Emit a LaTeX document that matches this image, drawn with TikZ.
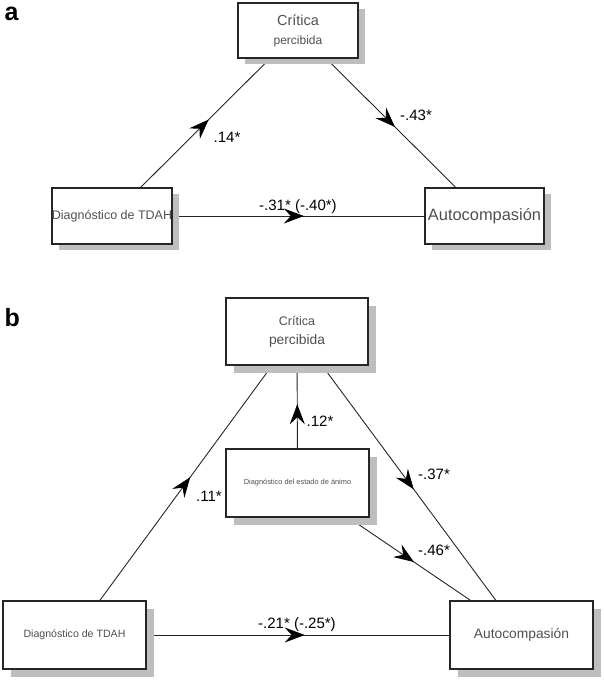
\documentclass[tikz,border=0pt]{standalone}
\usepackage{fontspec}
\setmainfont{Liberation Sans}
\usetikzlibrary{arrows.meta,decorations.markings,shadows,backgrounds}
\definecolor{shadowgray}{HTML}{BEBEBE}
\definecolor{boxtext}{HTML}{505050}
\newcommand{\fs}[1]{\fontsize{#1}{#1}\selectfont}

\begin{document}
\begin{tikzpicture}[x=1pt,y=-1pt,
    box/.style={draw=black!85, line width=1.2pt, fill=white, inner sep=0pt, text=boxtext, align=center},
    shadA/.style={drop shadow={shadow xshift=7pt, shadow yshift=-6pt, fill=shadowgray, opacity=1}},
    shadB/.style={drop shadow={shadow xshift=8pt, shadow yshift=-8pt, fill=shadowgray, opacity=1}},
    link/.style={draw=black!85, line width=0.9pt},
    midarrow/.style={postaction={decorate}, decoration={markings, mark=at position #1 with {\arrow[black]{Stealth[length=20pt,width=15pt,inset=7pt]}}}},
    coef/.style={font=\fs{15}, anchor=base},
    panel/.style={font=\bfseries\fs{25}, anchor=base west}]

    \useasboundingbox (0,0) rectangle (604,680);

    % panel a
    \node[panel] (pa) at (1,20) {a};
    \node[box, shadA, minimum width=120pt, minimum height=55pt] (crita) at (298,30.5)
        {{\fs{14.5}Crítica}\\[7pt]{\fs{12}percibida}};
    \node[box, shadA, minimum width=120pt, minimum height=56pt, font=\fs{12.5}] (diaga) at (112,216) {Diagnóstico de TDAH};
    \node[box, shadA, minimum width=119pt, minimum height=56pt, font=\fs{16.4}] (autoa) at (484.5,216) {Autocompasión};

    \begin{scope}[on background layer]
        \draw[link, midarrow=0.52] (diaga.center) -- (crita.center);
        \draw[link, midarrow=0.52] (crita.center) -- (autoa.center);
        \draw[link, midarrow=0.515] (diaga.center) -- (autoa.center);
    \end{scope}

    \node[coef] (ca1) at (227,142) {.14*};
    \node[coef] (ca2) at (416,120) {-.43*};
    \node[coef] (ca3) at (298,210) {-.31* (-.40*)};

    % panel b
    \node[panel] (pb) at (1,326) {b};
    \node[box, shadB, minimum width=142pt, minimum height=67pt] (critb) at (297,331.5)
        {{\fs{12.5}Crítica}\\[7pt]{\fs{13.8}percibida}};
    \node[box, shadB, minimum width=143pt, minimum height=68pt, font=\fs{7.4}] (estb) at (297.5,483) {Diagnóstico del estado de ánimo};
    \node[box, shadB, minimum width=143pt, minimum height=68pt, font=\fs{10.6}] (diagb) at (74.5,635) {Diagnóstico de TDAH};
    \node[box, shadB, minimum width=143pt, minimum height=68pt, font=\fs{13.8}] (autob) at (521.5,635) {Autocompasión};

    \begin{scope}[on background layer]
        \draw[link, midarrow=0.52] (diagb.center) -- (critb.center);
        \draw[link, midarrow=0.52] (critb.center) -- (autob.center);
        \draw[link, midarrow=0.52] (estb.center) -- (critb.center);
        \draw[link, midarrow=0.52] (estb.center) -- (autob.center);
        \draw[link, midarrow=0.515] (diagb.center) -- (autob.center);
    \end{scope}

    \node[coef] (cb1) at (320,426) {.12*};
    \node[coef] (cb2) at (434,479) {-.37*};
    \node[coef] (cb3) at (209,501) {.11*};
    \node[coef] (cb4) at (434,555) {-.46*};
    \node[coef] (cb5) at (297,628) {-.21* (-.25*)};
\end{tikzpicture}
\end{document}
